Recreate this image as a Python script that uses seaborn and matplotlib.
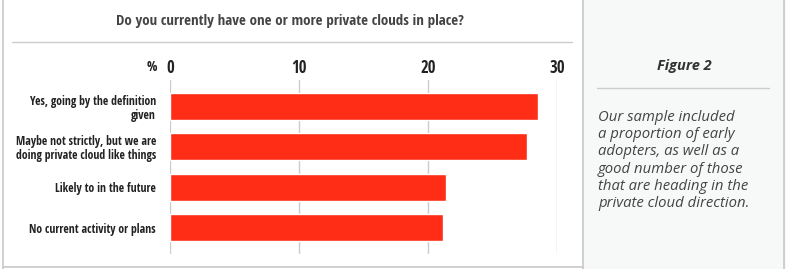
import matplotlib
matplotlib.use("Agg")
import matplotlib.pyplot as plt
import seaborn as sns
import pandas as pd
from matplotlib.patches import Rectangle
from matplotlib.lines import Line2D

# data
categories = [
    "Yes, going by the definition\ngiven",
    "Maybe not strictly, but we are\ndoing private cloud like things",
    "Likely to in the future",
    "No current activity or plans",
]
percent = [28.5, 27.7, 21.4, 21.2]
ticks = [0, 10, 20, 30]

title = "Do you currently have one or more private clouds in place?"
side_title = "Figure 2"
side_text = ("Our sample included\na proportion of early\nadopters, as well as a\n"
             "good number of those\nthat are heading in the\nprivate cloud direction.")

df = pd.DataFrame({"category": categories, "percent": percent})

sns.set_theme(style="white")
cond = ["Open Sans Condensed", "DejaVu Sans"]
plt.rcParams["font.family"] = cond
italic = ["Open Sans", "DejaVu Sans"]

W, H = 786, 269
fig = plt.figure(figsize=(W / 100, H / 100), dpi=100)
fig.patch.set_facecolor("white")

# sidebar panel and borders
fig.add_artist(Rectangle((583 / W, 0), (W - 583) / W, 1, transform=fig.transFigure,
                         facecolor="#f7f8f8", edgecolor="none", zorder=0))
for x in (3, 583, 784):
    fig.add_artist(Line2D([x / W, x / W], [0, 1], color="#c8c8c8", lw=1.2))
fig.add_artist(Line2D([3 / W, 583 / W], [1 - 267 / H, 1 - 267 / H], color="#c8c8c8", lw=1.2))

ax = fig.add_axes([170 / W, 1 - 254 / H, (557 - 170) / W, (254 - 80) / H])
sns.barplot(data=df, x="percent", y="category", color="#ff2d16", saturation=1,
            width=0.67, ax=ax, zorder=3)
ax.set_xlim(0, 30)
ax.set_ylim(3.65, -0.65)
ax.set_xticks(ticks)
ax.xaxis.tick_top()
ax.tick_params(axis="x", length=0, pad=2, labelsize=12, labelcolor="#222222")
ax.tick_params(axis="y", length=0, pad=10, labelsize=8.5, labelcolor="#222222")
for lab in ax.get_xticklabels() + ax.get_yticklabels():
    lab.set_fontweight("bold")
for lab in ax.get_yticklabels():
    lab.set_horizontalalignment("right")
    lab.set_multialignment("right")
    lab.set_linespacing(1.1)
ax.grid(axis="x", color="#cccccc", lw=1)
ax.set_axisbelow(True)
ax.set_xlabel("")
ax.set_ylabel("")
for s in ax.spines.values():
    s.set_visible(False)
ax.set_facecolor("none")

fig.text(157 / W, 1 - 67 / H, "%", ha="right", va="center", fontsize=10,
         fontweight="bold", color="#222222")

fig.text(290 / W, 1 - 21 / H, title, ha="center", va="center", fontsize=10.8,
         fontweight="bold", color="#444444")
fig.add_artist(Line2D([12 / W, 572 / W], [1 - 42 / H, 1 - 42 / H], color="#cccccc", lw=1))

fig.text(684 / W, 1 - 66 / H, side_title, ha="center", va="center", fontsize=10.5,
         fontweight="bold", style="italic", color="#333333", family=italic)
fig.add_artist(Line2D([597 / W, 769 / W], [1 - 88 / H, 1 - 88 / H], color="#cccccc", lw=1))
fig.text(598 / W, 1 - 110 / H, side_text, ha="left", va="top", fontsize=10.7,
         style="italic", color="#444444", linespacing=1.2, family=italic)

fig.savefig("out.png", dpi=100)
